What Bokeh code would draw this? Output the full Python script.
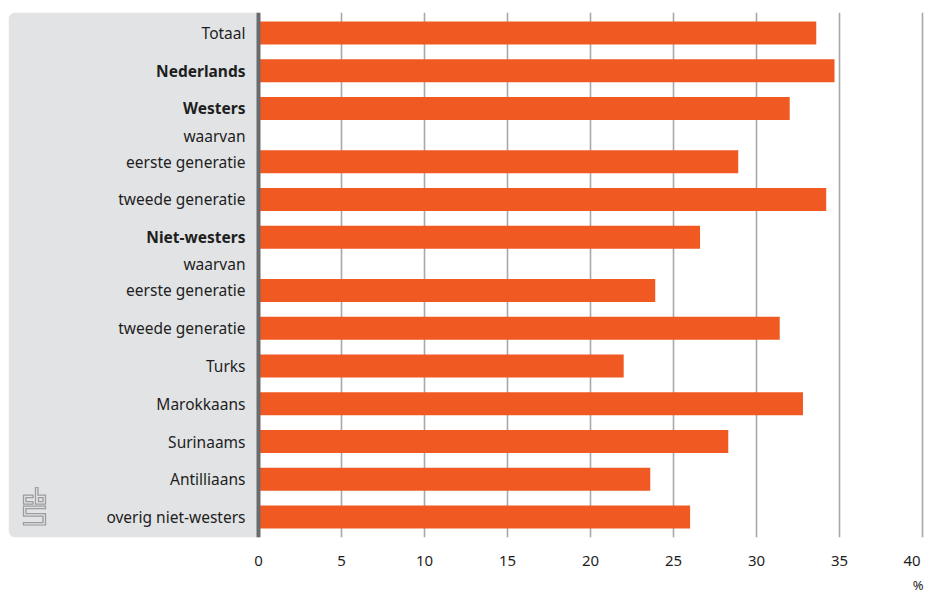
import base64
from bokeh.plotting import figure
from bokeh.models import FactorRange, Range1d, FixedTicker, BoxAnnotation, Span, Title, ColumnDataSource
from bokeh.core.properties import value, field
from bokeh.embed import file_html
from bokeh.resources import INLINE

# ---- data ----
groups = ["a", "a", "a", "b", "b", "b", "c", "c", "c", "c", "c", "c", "c"]
categories = ["Totaal", "Nederlands", "Westers", "eerste generatie", "tweede generatie",
              "Niet-westers", "eerste generatie", "tweede generatie", "Turks", "Marokkaans",
              "Surinaams", "Antilliaans", "overig niet-westers"]
values = [33.6, 34.7, 32.0, 28.9, 34.2, 26.6, 23.9, 31.4, 22.0, 32.8, 28.3, 23.6, 26.0]
bold = [False, True, True, False, False, True, False, False, False, False, False, False, False]
sub_heading = "waarvan"
sub_heading_rows = [("b", "eerste generatie"), ("c", "eerste generatie")]
x_ticks = [0, 5, 10, 15, 20, 25, 30, 35, 40]
unit_label = "%"

FONT = "Noto Sans"
ORANGE = "#f05a22"
PANEL = "#e2e3e5"
TXT = "#1e1e1e"

factors = list(zip(groups, categories))

px_per_unit = 16.6
x_start = -250 / px_per_unit
x_end = 40 + 2 / px_per_unit

p = figure(
    y_range=FactorRange(*reversed(factors), group_padding=0.41, factor_padding=0.0,
                        range_padding=0.04, range_padding_units="absolute"),
    x_range=Range1d(x_start, x_end),
    frame_width=916, frame_height=525,
    min_border_left=8, min_border_right=0, min_border_top=12, min_border_bottom=0,
    output_backend="svg", toolbar_location=None,
)
p.outline_line_color = None
p.background_fill_color = "white"
p.border_fill_color = "white"

# label panel
panel = BoxAnnotation(left=x_start, right=0, fill_color=PANEL, fill_alpha=1.0,
                      line_color=None, level="underlay",
                      border_radius=dict(top_left=7, top_right=0, bottom_right=0, bottom_left=7))
p.add_layout(panel)

# grid
p.ygrid.visible = False
p.xgrid.ticker = FixedTicker(ticks=x_ticks)
p.xgrid.grid_line_color = "#a8a8a8"
p.xgrid.grid_line_width = 1.6

# axes
p.yaxis.visible = False
xa = p.xaxis[0]
xa.ticker = FixedTicker(ticks=x_ticks)
xa.axis_line_color = None
xa.major_tick_line_color = None
xa.minor_tick_line_color = None
xa.major_label_text_font = FONT
xa.major_label_text_font_size = "15px"
xa.major_label_text_color = TXT
xa.major_label_standoff = 6
xa.major_label_overrides = {40: "40\u00a0"}

# bars
src = ColumnDataSource(dict(
    y=factors, v=values, label=[c for c in categories],
    style=["bold" if b else "normal" for b in bold],
))
p.hbar(y="y", right="v", left=0, height=0.61, source=src,
       fill_color=ORANGE, line_color=None)

# baseline
p.add_layout(Span(location=0, dimension="height", line_color="#6a6b6e", line_width=4))

# category labels
p.text(x=0, y="y", text="label", source=src, x_offset=-13,
       text_align="right", text_baseline="middle",
       text_font=value(FONT), text_font_size="15.5px",
       text_font_style=field("style"), text_color=TXT)
p.text(x=[0, 0], y=sub_heading_rows, text=[sub_heading] * len(sub_heading_rows),
       x_offset=-13, y_offset=-26,
       text_align="right", text_baseline="middle",
       text_font=value(FONT), text_font_size="15.5px", text_color=TXT)

# logo (decoration)
svg = ('<svg xmlns="http://www.w3.org/2000/svg" width="25" height="39" viewBox="0 0 25 39">'
       '<g fill="none" stroke="#9c9c9c" stroke-width="1.3">'
       '<path d="M11 8.5H1.5V17.5H11V15H4V11H11Z"/>'
       '<path d="M13.5 0.5H16V8.5H23.5V17.5H13.5Z"/>'
       '<path d="M16.5 11H21V15H16.5Z"/>'
       '<path d="M1.5 19.5H23.5V22H4V27H23.5V38.5H1.5V36H21V29.5H1.5Z"/>'
       '</g></svg>')
uri = "data:image/svg+xml;base64," + base64.b64encode(svg.encode()).decode()
p.image_url(url=[uri], x=[x_start + 26 / px_per_unit], y=[("c", "overig niet-westers", 0.29)],
            w=25, h=39, w_units="screen", h_units="screen", anchor="center")

# unit label
p.add_layout(Title(text=unit_label, align="right", text_font=FONT, text_font_size="13px",
                   text_font_style="normal", text_color=TXT, offset=1, standoff=3), "below")

open("out.html", "w").write(file_html(p, INLINE))
